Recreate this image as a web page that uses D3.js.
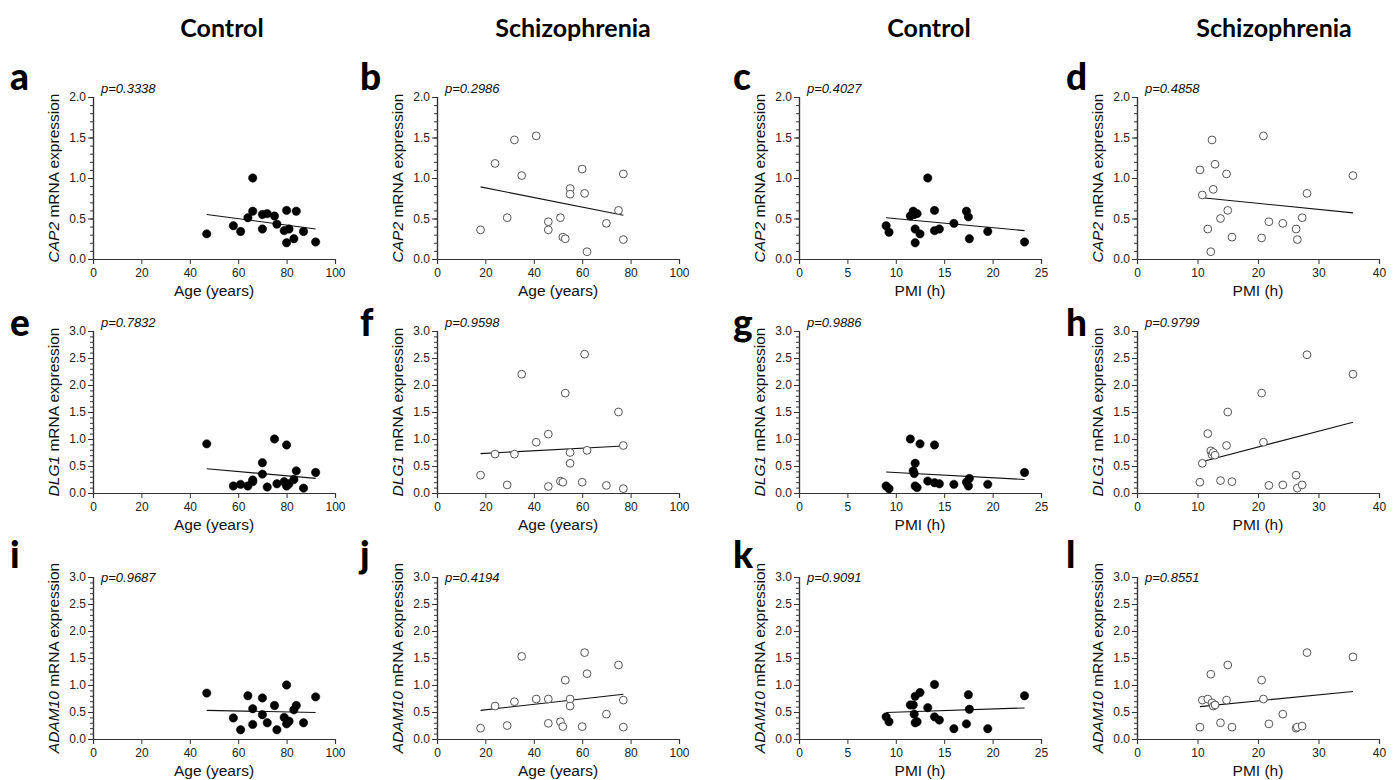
<!DOCTYPE html>
<html>
<head>
<meta charset="utf-8">
<script src="https://cdnjs.cloudflare.com/ajax/libs/d3/7.8.5/d3.min.js"></script>
<style>
  body { margin: 0; background: #fff; }
  svg { display: block; }
</style>
</head>
<body>
<svg id="chart"></svg>
<script>
// x values (subjects)
var ctrlAge = [47, 58, 61, 64, 66, 66, 70, 70, 72, 75, 76, 79, 80, 80, 81, 83, 84, 87, 92];
var schAge = [18, 24, 29, 32, 35, 41, 46, 46, 51, 52, 53, 55, 55, 60, 61, 62, 70, 75, 77, 77];
var ctrlPmi = [9.0, 9.3, 11.5, 11.8, 11.9, 12.0, 12.0, 12.2, 12.5, 13.3, 14.0, 14.0, 14.5, 16.0, 17.3, 17.5, 17.6, 19.5, 23.3];
var schPmi = [10.4, 10.8, 11.7, 12.2, 12.4, 12.6, 12.9, 13.8, 14.8, 15.0, 15.7, 20.6, 20.9, 21.8, 24.1, 26.3, 26.5, 27.3, 28.1, 35.7];

// CAP2
var cap2CtrlAge = [0.31, 0.41, 0.34, 0.51, 1.00, 0.59, 0.55, 0.37, 0.56, 0.53, 0.43, 0.35, 0.60, 0.20, 0.37, 0.25, 0.59, 0.34, 0.21];
var cap2SchAge = [0.36, 1.18, 0.51, 1.47, 1.03, 1.52, 0.46, 0.36, 0.51, 0.27, 0.25, 0.87, 0.80, 1.11, 0.81, 0.09, 0.44, 0.60, 1.05, 0.24];
var cap2CtrlPmi = [0.41, 0.33, 0.53, 0.59, 0.55, 0.37, 0.20, 0.56, 0.31, 1.00, 0.60, 0.35, 0.37, 0.44, 0.59, 0.52, 0.25, 0.34, 0.21];
var cap2SchPmi = [1.10, 0.79, 0.37, 0.09, 1.47, 0.86, 1.17, 0.50, 1.05, 0.60, 0.27, 0.26, 1.52, 0.46, 0.44, 0.37, 0.24, 0.51, 0.81, 1.03];

// DLG1
var dlg1CtrlAge = [0.91, 0.13, 0.16, 0.13, 0.21, 0.24, 0.56, 0.35, 0.11, 1.00, 0.17, 0.21, 0.89, 0.13, 0.17, 0.25, 0.41, 0.09, 0.38];
var dlg1SchAge = [0.33, 0.72, 0.15, 0.72, 2.20, 0.94, 0.12, 1.09, 0.22, 0.20, 1.85, 0.75, 0.55, 0.20, 2.57, 0.79, 0.14, 1.50, 0.88, 0.08];
var dlg1CtrlPmi = [0.13, 0.08, 1.00, 0.41, 0.36, 0.55, 0.13, 0.10, 0.91, 0.22, 0.89, 0.19, 0.17, 0.16, 0.20, 0.13, 0.27, 0.16, 0.38];
var dlg1SchPmi = [0.20, 0.55, 1.10, 0.78, 0.71, 0.75, 0.70, 0.23, 0.88, 1.50, 0.21, 1.85, 0.94, 0.14, 0.15, 0.33, 0.09, 0.15, 2.56, 2.20];

// ADAM10
var adam10CtrlAge = [0.85, 0.39, 0.17, 0.80, 0.56, 0.27, 0.76, 0.45, 0.30, 0.62, 0.17, 0.40, 1.00, 0.28, 0.33, 0.54, 0.62, 0.30, 0.78];
var adam10SchAge = [0.20, 0.61, 0.25, 0.69, 1.53, 0.74, 0.74, 0.29, 0.32, 0.23, 1.09, 0.74, 0.61, 0.23, 1.60, 1.21, 0.46, 1.37, 0.72, 0.22];
var adam10CtrlPmi = [0.41, 0.32, 0.63, 0.63, 0.46, 0.79, 0.30, 0.32, 0.86, 0.58, 1.01, 0.41, 0.35, 0.19, 0.28, 0.82, 0.55, 0.19, 0.80];
var adam10SchPmi = [0.22, 0.72, 0.74, 1.20, 0.67, 0.61, 0.63, 0.30, 0.72, 1.37, 0.22, 1.09, 0.74, 0.28, 0.46, 0.20, 0.22, 0.24, 1.60, 1.52];

// regression line values at min and max x
var fits = [[0.55, 0.37], [0.89, 0.54], [0.51, 0.35], [0.76, 0.57],
            [0.45, 0.27], [0.73, 0.87], [0.39, 0.25], [0.57, 1.31],
            [0.53, 0.49], [0.53, 0.83], [0.49, 0.575], [0.60, 0.88]];
var pValues = ["0.3338", "0.2986", "0.4027", "0.4858",
               "0.7832", "0.9598", "0.9886", "0.9799",
               "0.9687", "0.4194", "0.9091", "0.8551"];
var panelLetters = ["a", "b", "c", "d", "e", "f", "g", "h", "i", "j", "k", "l"];
var genes = ["CAP2", "DLG1", "ADAM10"];
var groupTitles = ["Control", "Schizophrenia", "Control", "Schizophrenia"];
var xLabels = ["Age (years)", "Age (years)", "PMI (h)", "PMI (h)"];
var xMax = [100, 100, 25, 40];
var xStep = [20, 20, 5, 10];
var yMax = [2, 3, 3];

var xData = [ctrlAge, schAge, ctrlPmi, schPmi];
var yData = [
  [cap2CtrlAge, cap2SchAge, cap2CtrlPmi, cap2SchPmi],
  [dlg1CtrlAge, dlg1SchAge, dlg1CtrlPmi, dlg1SchPmi],
  [adam10CtrlAge, adam10SchAge, adam10CtrlPmi, adam10SchPmi]
];

// layout
var svgWidth = 1400, svgHeight = 780;
var colLeft = [93, 437, 799, 1137];
var rowTop = [97, 331, 577];
var plotW = 242, plotH = 162;
var titleX = [222, 573, 929, 1274];
var letterX = [10, 360, 733, 1066];
var letterY = [90, 336, 568];
var pOffset = [-4, -4, 5];
var axisColor = "#333";
var tickFont = "'Liberation Sans', Arial, sans-serif";

var svg = d3.select("#chart")
  .attr("width", svgWidth)
  .attr("height", svgHeight);

svg.append("rect").attr("width", svgWidth).attr("height", svgHeight).attr("fill", "#fff");

// column headers
svg.selectAll("text.title")
  .data(groupTitles)
  .enter().append("text")
  .attr("class", "title")
  .attr("x", function(d, i) { return titleX[i]; })
  .attr("y", 37)
  .attr("text-anchor", "middle")
  .style("font-family", "Lato, 'Open Sans', sans-serif")
  .style("font-weight", "bold")
  .style("font-size", "25px")
  .text(function(d) { return d; });

for (var r = 0; r < 3; r++) {
  for (var c = 0; c < 4; c++) {
    drawPanel(r, c);
  }
}

function drawPanel(r, c) {
  var idx = r * 4 + c;
  var filled = (c % 2 === 0);
  var xs = xData[c], ys = yData[r][c];
  var pts = xs.map(function(v, i) { return { x: v, y: ys[i] }; });

  var g = svg.append("g")
    .attr("transform", "translate(" + colLeft[c] + "," + rowTop[r] + ")");

  var x = d3.scaleLinear().domain([0, xMax[c]]).range([0, plotW]);
  var y = d3.scaleLinear().domain([0, yMax[r]]).range([plotH, 0]);

  // panel letter
  svg.append("text")
    .attr("x", letterX[c])
    .attr("y", letterY[r])
    .style("font-family", "Lato, 'Open Sans', sans-serif")
    .style("font-weight", "900")
    .style("font-size", "37px")
    .text(panelLetters[idx]);

  // minor y ticks every 0.1
  var yMinor = d3.range(0, yMax[r] + 0.001, 0.1);
  g.append("g")
    .call(d3.axisLeft(y).tickValues(yMinor).tickSize(3).tickFormat(""))
    .call(styleAxis);

  // y axis
  g.append("g")
    .call(d3.axisLeft(y).tickValues(d3.range(0, yMax[r] + 0.001, 0.5))
      .tickFormat(d3.format(".1f")).tickSize(5).tickPadding(2))
    .call(styleAxis);

  // x axis
  g.append("g")
    .attr("transform", "translate(0," + plotH + ")")
    .call(d3.axisBottom(x).tickValues(d3.range(0, xMax[c] + 0.001, xStep[c]))
      .tickSize(5).tickPadding(4))
    .call(styleAxis);

  // y label
  var yl = g.append("text")
    .attr("transform", "translate(-34," + (plotH / 2) + ") rotate(-90)")
    .attr("text-anchor", "middle")
    .style("font-family", tickFont)
    .style("font-size", "15.5px")
    .attr("fill", "#111");
  yl.append("tspan").style("font-style", "italic").text(genes[r]);
  yl.append("tspan").text(" mRNA expression");

  // x label
  g.append("text")
    .attr("x", plotW / 2)
    .attr("y", plotH + 37)
    .attr("text-anchor", "middle")
    .style("font-family", tickFont)
    .style("font-size", "15.5px")
    .attr("fill", "#111")
    .text(xLabels[c]);

  // p value
  g.append("text")
    .attr("x", 8)
    .attr("y", pOffset[r])
    .style("font-family", tickFont)
    .style("font-style", "italic")
    .style("font-size", "13px")
    .attr("fill", "#111")
    .text("p=" + pValues[idx]);

  // regression line
  var ext = d3.extent(xs);
  g.append("line")
    .attr("x1", x(ext[0])).attr("y1", y(fits[idx][0]))
    .attr("x2", x(ext[1])).attr("y2", y(fits[idx][1]))
    .attr("stroke", "#111")
    .attr("stroke-width", 1.1);

  // points
  g.selectAll("circle")
    .data(pts)
    .enter().append("circle")
    .attr("cx", function(d) { return x(d.x); })
    .attr("cy", function(d) { return y(d.y); })
    .attr("r", filled ? 4.2 : 3.9)
    .attr("fill", filled ? "#000" : "#fff")
    .attr("stroke", filled ? "#000" : "#555")
    .attr("stroke-width", filled ? 0.5 : 1);
}

function styleAxis(sel) {
  sel.select(".domain").attr("stroke", axisColor).attr("stroke-width", 1.2);
  sel.selectAll(".tick line").attr("stroke", axisColor).attr("stroke-width", 1);
  sel.selectAll(".tick text")
    .attr("fill", "#222")
    .style("font-family", tickFont)
    .style("font-size", "12px");
}
</script>
</body>
</html>
